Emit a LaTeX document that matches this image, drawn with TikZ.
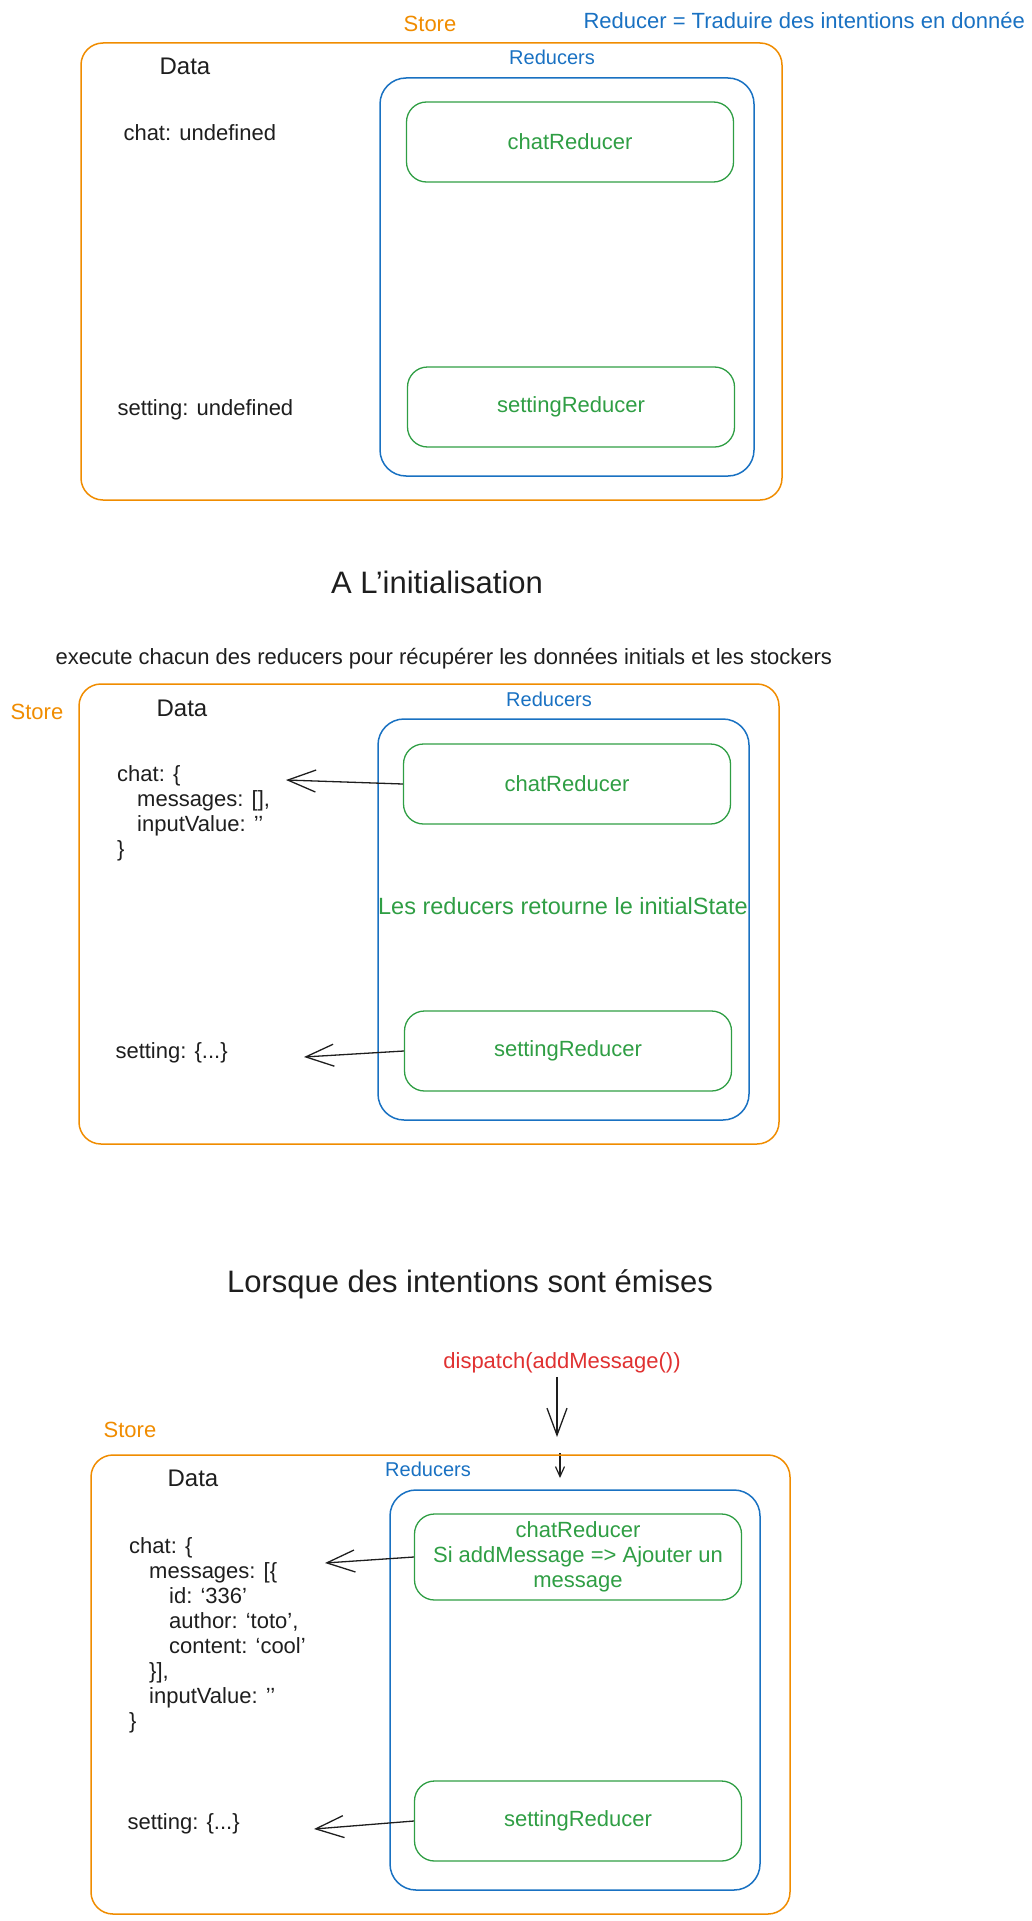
\documentclass[tikz,border=0pt]{standalone}
\usepackage{fontspec}
\setmainfont{Liberation Sans}
\usetikzlibrary{positioning,calc,arrows.meta}

\definecolor{storeorange}{HTML}{F08C00}
\definecolor{redblue}{HTML}{1971C2}
\definecolor{redgreen}{HTML}{2F9E44}
\definecolor{actred}{HTML}{E03131}
\definecolor{ink}{HTML}{1E1E1E}

\newcommand{\sizebody}{\fontsize{22}{25}\selectfont}
\newcommand{\sizetitle}{\fontsize{31}{36}\selectfont}

\tikzset{
  storeframe/.style={draw=storeorange, line width=1.5pt, rounded corners=22pt},
  reducerframe/.style={draw=redblue, line width=1.5pt, rounded corners=26pt},
  reducerbox/.style={draw=redgreen, line width=1.3pt, rounded corners=20pt,
    minimum width=327pt, minimum height=80pt, text=redgreen, align=center},
  storelabel/.style={text=storeorange, font=\fontsize{22}{26}\selectfont},
  reducerlabel/.style={text=redblue, font=\fontsize{20}{24}\selectfont},
  datalabel/.style={font=\fontsize{24}{28}\selectfont},
  datatext/.style={align=left, inner sep=0pt},
  heading/.style={font=\sizetitle},
  giveback/.style={draw=ink, line width=1.3pt, -{Straight Barb[length=28pt, width=22pt]}},
}

\begin{document}
\begin{tikzpicture}[x=1pt, y=-1pt, font=\sizebody, text=ink]
  \useasboundingbox (0,0) rectangle (1031,1921);%
  % first view
  \node [storelabel] (store1) at (430,24) {Store};%
  \node [anchor=west, text=redblue] (tagline) at (580,21) {Reducer = Traduire des intentions en donnée};%
  \draw [storeframe] (81,43) rectangle (782,500);%
  \node [datalabel] (data1) at (185,66) {Data};%
  \node [reducerlabel] (reducers1) at (552,57) {Reducers};%
  \draw [reducerframe] (380,78) rectangle (754,476);%
  \node [reducerbox] (chatRed1) at (570,142) {chatReducer};%
  \node [reducerbox] (settingRed1) at (571,407) {settingReducer};%
  \node [anchor=west] (chatData1) at (120,133) {chat: undefined};%
  \node [anchor=west] (settingData1) at (114,410) {setting: undefined};%
  % initialisation
  \node [heading] (initTitle) at (437,582) {A L'initialisation};%
  \node [anchor=west] (initNote) at (52,659) {execute chacun des reducers pour récupérer les données initials et les stockers};%
  \node [storelabel] (store2) at (37,712) {Store};%
  \draw [storeframe] (79,684) rectangle (779,1144);%
  \node [datalabel] (data2) at (182,708) {Data};%
  \node [reducerlabel] (reducers2) at (549,699) {Reducers};%
  \draw [reducerframe] (378,719) rectangle (749,1120);%
  \node [reducerbox] (chatRed2) at (567,784) {chatReducer};%
  \node [text=redgreen, font=\fontsize{23.5}{27}\selectfont] (initState) at (563,906) {Les reducers retourne le initialState};%
  \node [reducerbox] (settingRed2) at (568,1051) {settingReducer};%
  \node [datatext, anchor=north west] (chatData2) at (117,765) {chat: \{\\%
    \hspace*{20pt}messages: [],\\%
    \hspace*{20pt}inputValue: '{}'\\%
    \}};%
  \node [anchor=west] (settingData2) at (112,1053) {setting: \{...\}};%
  \coordinate (chatIn2) at (286,780);%
  \coordinate (settingIn2) at (304,1057);%
  \draw [giveback] (chatRed2.west) -- (chatIn2);%
  \draw [giveback] (settingRed2.west) -- (settingIn2);%
  % intentions
  \node [heading] (emitTitle) at (470,1284) {Lorsque des intentions sont émises};%
  \node [text=actred] (dispatch) at (562,1363) {dispatch(addMessage())};%
  \coordinate (dispTip) at (557,1437);%
  \draw [draw=ink, line width=1.3pt, -{Straight Barb[length=27pt, width=20pt]}] (dispatch.south -| dispTip) -- (dispTip);%
  \coordinate (nudgeTop) at (560,1453);%
  \coordinate (nudgeTip) at (560,1478);%
  \draw [draw=ink, line width=1.2pt, -{Straight Barb[length=10pt, width=9pt]}] (nudgeTop) -- (nudgeTip);%
  \node [storelabel] (store3) at (130,1430) {Store};%
  \draw [storeframe] (91,1455) rectangle (790,1914);%
  \node [datalabel] (data3) at (193,1478) {Data};%
  \node [reducerlabel] (reducers3) at (428,1469) {Reducers};%
  \draw [reducerframe] (390,1490) rectangle (760,1890);%
  \node [reducerbox, minimum height=86pt] (chatRed3) at (578,1557) {chatReducer\\%
    Si addMessage => Ajouter un\\%
    message};%
  \node [reducerbox] (settingRed3) at (578,1821) {settingReducer};%
  \node [datatext, anchor=north west] (chatData3) at (129,1537) {chat: \{\\%
    \hspace*{20pt}messages: [\{\\%
    \hspace*{40pt}id: `336'\\%
    \hspace*{40pt}author: `toto',\\%
    \hspace*{40pt}content: `cool'\\%
    \hspace*{20pt}\}],\\%
    \hspace*{20pt}inputValue: '{}'\\%
    \}};%
  \node [anchor=west] (settingData3) at (124,1824) {setting: \{...\}};%
  \coordinate (chatIn3) at (325,1563);%
  \coordinate (settingIn3) at (314,1829);%
  \draw [giveback] (chatRed3.west) -- (chatIn3);%
  \draw [giveback] (settingRed3.west) -- (settingIn3);%
\end{tikzpicture}
\end{document}
